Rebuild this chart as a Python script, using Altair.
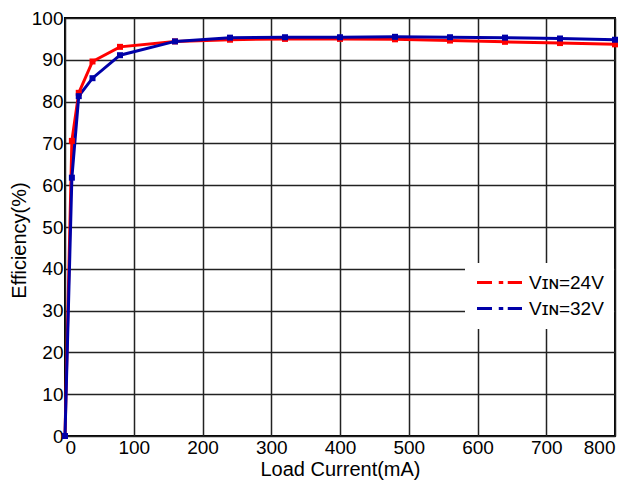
import altair as alt
import pandas as pd

current = [0, 10, 20, 40, 80, 160, 240, 320, 400, 480, 560, 640, 720, 800]
eff_24v = [0, 70.6, 82.1, 89.6, 93.1, 94.4, 94.8, 95.0, 95.0, 94.9, 94.6, 94.3, 94.0, 93.7]
eff_32v = [0, 61.8, 81.3, 85.6, 91.1, 94.4, 95.3, 95.4, 95.4, 95.5, 95.4, 95.3, 95.1, 94.8]
series = ["V\u026a\u0274=24V", "V\u026a\u0274=32V"]
colors = ["#ff0000", "#0000a8"]
x_ticks = list(range(0, 801, 100))
y_ticks = list(range(0, 101, 10))

rows = []
for name, vals in zip(series, [eff_24v, eff_32v]):
    for c, e in zip(current, vals):
        rows.append({"current": c, "eff": e, "series": name})
df = pd.DataFrame(rows)

FONT = "Liberation Sans"

legend = alt.Legend(
    title=None,
    orient="none",
    legendX=400,
    legendY=245,
    fillColor="white",
    padding=10,
    symbolType="M-1,0H1M1.9,0H2.5M3.1,0H5",
    symbolSize=225,
    symbolStrokeWidth=3,
    labelOffset=35,
    labelFont=FONT,
    labelFontSize=19,
    labelColor="black",
    rowPadding=6,
)

chart = (
    alt.Chart(df)
    .mark_line(
        strokeWidth=3,
        point=alt.OverlayMarkDef(shape="square", size=36, filled=True, opacity=1),
    )
    .encode(
        x=alt.X(
            "current:Q",
            scale=alt.Scale(domain=[0, 800], nice=False),
            axis=alt.Axis(values=x_ticks, title="Load Current(mA)", labelPadding=2, titlePadding=2),
        ),
        y=alt.Y(
            "eff:Q",
            scale=alt.Scale(domain=[0, 100], nice=False),
            axis=alt.Axis(
                values=y_ticks,
                title="Efficiency(%)",
                labelPadding=2,
                titleX=-46,
                titleY=222,
                titleAngle=270,
                titleAlign="center",
                titleBaseline="middle",
            ),
        ),
        color=alt.Color(
            "series:N",
            scale=alt.Scale(domain=series, range=colors),
            legend=legend,
        ),
        order=alt.Order("current:Q"),
    )
    .properties(
        width=550,
        height=418,
        autosize=alt.AutoSizeParams(type="none"),
        padding={"left": 57, "top": 10, "right": 10, "bottom": 46},
    )
    .configure_view(stroke="black", strokeWidth=2)
    .configure_axis(
        labelFont=FONT,
        labelFontSize=19,
        labelColor="black",
        titleFont=FONT,
        titleFontSize=20,
        titleFontWeight="normal",
        titleColor="black",
        domain=False,
        ticks=False,
        grid=True,
        gridColor="#222222",
        gridWidth=1.5,
        gridOpacity=1,
    )
)

chart.save("out.html", embed_options={"renderer": "svg", "actions": False})
